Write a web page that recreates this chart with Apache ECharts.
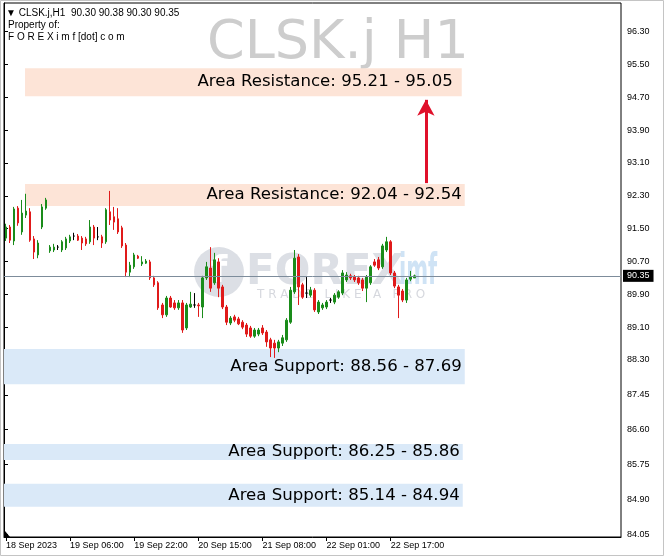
<!DOCTYPE html>
<html><head><meta charset="utf-8">
<script src="https://cdn.jsdelivr.net/npm/echarts@6/dist/echarts.min.js"></script>
<style>html,body{margin:0;padding:0;background:#fff}#c{width:664px;height:560px}</style>
</head><body><div id="c"></div>
<script>
const symbolName = 'CLSK.j';
const timeframe = 'H1';
const tickLabels = ['18 Sep 2023','19 Sep 06:00','19 Sep 22:00','20 Sep 15:00','21 Sep 08:00','22 Sep 01:00','22 Sep 17:00'];
const barsPerTick = 16;
const slotCount = 154;

const opens = [91.27,91.54,91.20,92.00,91.42,91.83,91.91,91.25,90.86,91.54,
92.00,90.96,90.98,91.05,90.98,91.03,91.20,91.32,91.32,91.27,
91.25,91.18,91.54,91.30,91.30,91.18,91.91,91.79,91.74,91.52,
91.10,90.44,90.57,90.83,90.64,90.66,90.69,90.30,90.18,89.64,
89.40,89.81,89.69,89.57,89.69,89.08,89.59,89.64,89.64,89.59,
90.30,90.54,90.18,90.69,90.08,89.59,89.20,89.35,89.30,89.22,
89.15,89.08,88.88,88.93,89.08,88.98,88.79,88.71,88.59,88.71,
88.79,89.22,89.96,90.81,90.13,89.93,89.88,90.00,89.47,89.57,
89.59,89.76,89.71,89.83,89.93,90.25,90.35,90.32,90.30,90.25,
90.05,90.18,90.69,90.74,90.57,90.98,91.18,90.42,90.08,89.98,
89.76,90.27,90.30];
const closes = [91.54,91.22,91.98,91.64,91.88,91.93,91.22,90.93,91.15,92.03,
92.20,91.05,91.05,91.05,91.18,91.25,91.30,91.32,91.22,91.15,
91.13,91.54,91.27,91.30,91.15,91.96,91.71,91.66,91.42,91.08,
90.44,90.61,90.86,90.78,90.69,90.71,90.30,90.13,89.57,89.40,
89.81,89.59,89.57,89.69,89.03,89.64,89.66,89.64,89.62,90.30,
90.57,90.05,90.74,90.05,89.59,89.22,89.32,89.27,89.18,89.10,
88.93,88.88,89.03,89.03,88.96,88.74,88.59,88.59,88.74,88.84,
89.27,90.00,90.78,90.08,89.83,89.93,90.00,89.52,89.71,89.64,
89.71,89.76,89.88,89.96,90.42,90.37,90.30,90.25,90.18,90.05,
90.32,90.57,90.61,90.54,91.08,91.18,90.42,90.10,89.88,89.76,
90.25,90.32,90.35];
const lows = [91.20,91.15,91.10,91.57,91.35,91.76,91.18,90.76,90.78,91.49,
91.96,90.91,90.93,90.98,90.93,90.98,91.15,91.22,91.20,90.98,
91.08,91.13,91.10,91.22,91.03,91.13,91.59,91.47,91.37,91.03,
90.32,90.32,90.52,90.76,90.59,90.64,90.25,90.08,89.52,89.32,
89.35,89.57,89.52,89.52,88.96,89.03,89.57,89.57,89.35,89.32,
90.25,89.96,90.13,89.83,89.54,89.15,89.15,89.22,89.15,89.05,
88.86,88.84,88.84,88.88,88.91,88.62,88.37,88.35,88.49,88.64,
88.74,89.18,89.91,89.64,89.79,89.81,89.83,89.47,89.42,89.52,
89.54,89.69,89.66,89.79,89.88,90.20,90.25,90.20,90.13,89.98,
89.71,90.13,90.57,90.49,90.52,90.93,90.37,90.05,89.32,89.71,
89.69,90.22,90.30];
const highs = [91.62,91.59,92.03,92.05,92.20,92.35,92.00,91.32,91.22,92.10,
92.25,91.10,91.13,91.10,91.22,91.30,91.35,91.40,91.37,91.32,
91.30,91.71,91.59,91.54,91.35,92.00,92.42,92.03,92.00,91.57,
91.15,90.69,90.91,90.86,90.83,90.76,90.74,90.35,90.22,89.69,
89.86,89.86,89.76,89.76,89.76,89.69,89.96,89.93,89.69,90.35,
90.69,91.05,90.91,90.78,90.13,89.64,89.37,89.40,89.35,89.27,
89.20,89.13,89.08,89.08,89.15,89.03,88.84,88.79,88.79,88.91,
89.32,90.08,90.98,90.88,90.18,90.32,90.08,90.05,89.76,89.69,
89.76,89.81,89.93,90.00,90.49,90.44,90.40,90.37,90.35,90.30,
90.37,90.61,90.76,90.81,91.13,91.30,91.22,90.47,90.13,90.03,
90.30,90.47,90.38];

const yTicks = [96.30,95.50,94.70,93.90,93.10,92.30,91.50,90.70,89.90,89.10,88.30,87.45,86.60,85.75,84.90,84.05];
const yMin = 83.985, yMax = 97.0;

const bandLabels = ['Area Resistance: 95.21 - 95.05','Area Resistance: 92.04 - 92.54','Area Support: 88.56 - 87.69','Area Support: 86.25 - 85.86','Area Support: 85.14 - 84.94'];
const bandTop = [95.41, 92.59, 88.57, 86.25, 85.28];
const bandBottom = [94.73, 92.05, 87.71, 85.86, 84.72];
const bandFrom = [5.25, 5.25, 0, 0, 0];
const bandTo = [114.25, 115, 115, 114.5, 114.5];
const bandKind = ['res','res','sup','sup','sup'];
const arrowFrom = [105.3, 92.61];
const arrowTo = [105.3, 94.64];

const GREEN = '#1a8c1a', RED = '#e01a1a';
const FONT_S = '"Liberation Sans", Arial, sans-serif';

const categories = Array.from({length: slotCount}, (_, i) => String(i));
const candles = opens.map((o, i) => [o, closes[i], lows[i], highs[i]]);
const last = opens.length - 1;
const headerText = '\u25BC ' + symbolName + ',' + timeframe + '  ' +
  [opens[last], highs[last], lows[last], closes[last]].map(v => v.toFixed(2)).join(' ');
const isTick = (idx) => idx % barsPerTick === 0 && idx / barsPerTick < tickLabels.length;

const chart = echarts.init(document.getElementById('c'), null, {renderer: 'canvas'});
chart.setOption({
  animation: false,
  backgroundColor: '#fff',
  grid: {left: 4, right: 43, top: 3, bottom: 23, show: true, borderColor: '#000', borderWidth: 1, backgroundColor: 'transparent'},
  xAxis: [{
    type: 'category', data: categories, boundaryGap: true,
    axisLine: {show: true, lineStyle: {color: '#000', width: 1}},
    axisTick: {show: true, alignWithLabel: true, interval: (i) => isTick(i), length: 4, lineStyle: {color: '#000'}},
    axisLabel: {interval: (i) => isTick(i), formatter: (v, i) => tickLabels[i / barsPerTick] || '',
      align: 'left', fontSize: 9, color: '#000', margin: 4, fontFamily: FONT_S},
    splitLine: {show: false}
  }, {
    type: 'value', min: 0, max: slotCount, show: false
  }],
  yAxis: [{
    type: 'value', position: 'right', min: yMin, max: yMax, scale: true,
    axisLine: {show: true, lineStyle: {color: '#000'}},
    axisTick: {show: true, inside: false, length: 4, customValues: yTicks, lineStyle: {color: '#000'}},
    axisLabel: {customValues: yTicks, formatter: (v) => v.toFixed(2), fontSize: 9, color: '#000', margin: 6, fontFamily: FONT_S},
    splitLine: {show: false}
  }],
  graphic: [
    {type: 'rect', z: -10, shape: {x: 0.5, y: 0.5, width: 663, height: 555}, style: {fill: 'none', stroke: '#c4c4c4', lineWidth: 1}},
    {type: 'text', z: 0, left: 207, top: 17, style: {text: symbolName + ' ' + timeframe, font: '54px "DejaVu Sans", sans-serif', fill: '#cdcdcd'}},
    {type: 'circle', z: 0, shape: {cx: 219, cy: 272, r: 25}, style: {fill: '#dcdfe5'}},
    {type: 'text', z: 0, x: 219, y: 272, style: {text: 'f', font: 'bold 38px "DejaVu Sans", sans-serif', fill: '#ffffff', align: 'center', verticalAlign: 'middle'}},
    {type: 'text', z: 0, x: 246, y: 273, style: {text: 'FOREX', font: 'bold 42px "DejaVu Sans", sans-serif', fill: '#dcdfe5', verticalAlign: 'middle'}},
    {type: 'text', z: 0, x: 399, y: 273, scaleX: 0.5, style: {text: 'imf', font: 'bold 42px "DejaVu Sans", sans-serif', fill: '#cfe3f5', verticalAlign: 'middle'}},
    {type: 'text', z: 0, x: 257, y: 295, style: {text: 'T R A D E   L I K E   A   P R O', font: '12px "DejaVu Sans", sans-serif', fill: '#d6d8de', verticalAlign: 'middle'}},
    {type: 'text', z: 5, x: 6, y: 13, style: {text: headerText, font: '10px ' + FONT_S, fill: '#000', verticalAlign: 'middle'}},
    {type: 'text', z: 5, x: 8, y: 25, style: {text: 'Property of:', font: '10px ' + FONT_S, fill: '#000', verticalAlign: 'middle'}},
    {type: 'text', z: 5, x: 8, y: 37, style: {text: 'F O R E X i m f [dot] c o m', font: '10px ' + FONT_S, fill: '#000', verticalAlign: 'middle'}},
    {type: 'polygon', z: 5, shape: {points: [[5, 531], [5, 537], [10, 537]]}, style: {fill: '#000'}}
  ],
  series: [{
    type: 'line', xAxisIndex: 1, yAxisIndex: 0, data: [], z: 1, silent: true,
    markArea: {
      silent: true,
      label: {show: true, position: 'insideRight', color: '#000', fontSize: 16.6, fontFamily: '"DejaVu Sans", sans-serif', distance: 3},
      data: bandLabels.map((name, i) => [
        {name: name, xAxis: bandFrom[i], yAxis: bandTop[i],
         itemStyle: {color: bandKind[i] === 'res' ? '#fde4d7' : '#dae9f8', opacity: 1},
         label: {distance: i === 0 ? 9 : 3}},
        {xAxis: bandTo[i], yAxis: bandBottom[i]}
      ])
    },
    markLine: {
      silent: true, symbol: ['none', 'arrow'], symbolSize: [13, 16],
      label: {show: false},
      lineStyle: {color: '#e0102a', width: 3, type: 'solid'},
      data: [[{coord: arrowFrom}, {coord: arrowTo}]]
    }
  }, {
    type: 'candlestick', name: symbolName, xAxisIndex: 0, yAxisIndex: 0, data: candles, barWidth: 2, z: 3,
    itemStyle: {color: GREEN, color0: RED, borderColor: GREEN, borderColor0: RED, borderColorDoji: '#000', borderWidth: 1},
    markLine: {
      silent: true, symbol: ['none', 'none'],
      lineStyle: {color: '#7d8c9b', width: 1, type: 'solid'},
      label: {show: true, position: 'end', formatter: (p) => p.value.toFixed(2), backgroundColor: '#000', color: '#fff',
        fontSize: 9, fontFamily: FONT_S, padding: [2, 4, 1, 4], distance: 2},
      data: [{yAxis: closes[last]}]
    }
  }]
});
</script></body></html>
